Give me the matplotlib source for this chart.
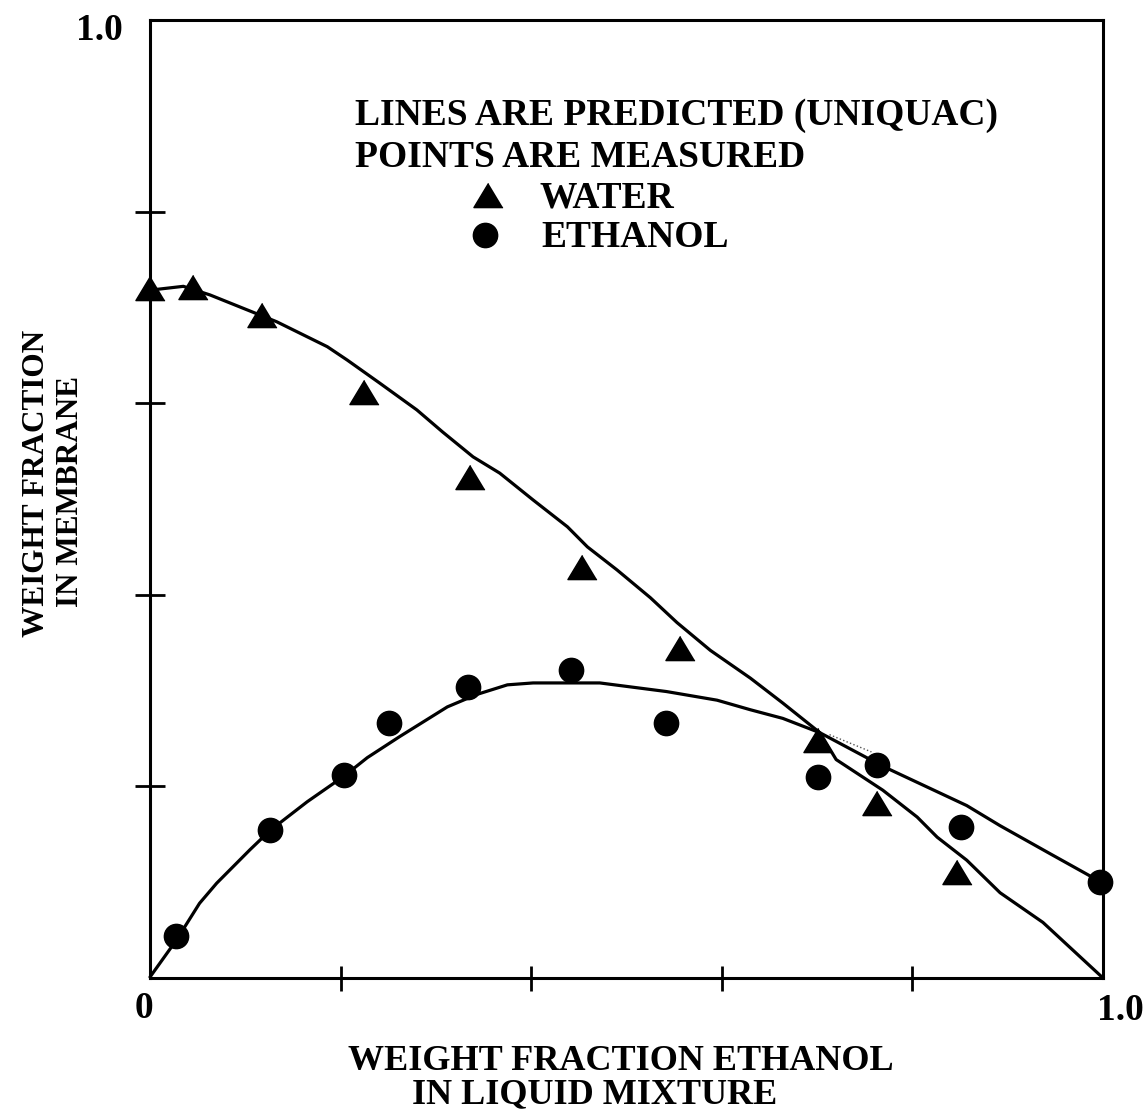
import matplotlib
matplotlib.use("Agg")
import matplotlib.pyplot as plt

# ---------------- data ----------------
water_x = [0.000, 0.045, 0.118, 0.225, 0.336, 0.453, 0.556, 0.701, 0.763, 0.847]
water_y = [0.720, 0.721, 0.692, 0.612, 0.523, 0.429, 0.344, 0.248, 0.183, 0.111]

ethanol_x = [0.027, 0.126, 0.204, 0.251, 0.334, 0.442, 0.541, 0.701, 0.763, 0.851, 0.997]
ethanol_y = [0.044, 0.154, 0.212, 0.266, 0.304, 0.322, 0.266, 0.210, 0.222, 0.158, 0.100]

water_line_x = [0.000, 0.035, 0.063, 0.133, 0.186, 0.207, 0.241, 0.280, 0.307,
                0.339, 0.367, 0.402, 0.438, 0.459, 0.490, 0.525, 0.553, 0.588,
                0.630, 0.664, 0.703, 0.720, 0.769, 0.805, 0.826, 0.857, 0.892,
                0.937, 1.000]
water_line_y = [0.718, 0.722, 0.713, 0.685, 0.659, 0.645, 0.621, 0.593, 0.570,
                0.544, 0.527, 0.499, 0.471, 0.450, 0.426, 0.397, 0.371, 0.342,
                0.313, 0.287, 0.256, 0.228, 0.196, 0.168, 0.147, 0.123, 0.089,
                0.058, 0.000]

ethanol_line_x = [0.000, 0.028, 0.052, 0.070, 0.105, 0.126, 0.165, 0.204, 0.228,
                  0.262, 0.312, 0.343, 0.375, 0.402, 0.472, 0.542, 0.595, 0.630,
                  0.664, 0.703, 0.769, 0.857, 0.892, 0.944, 1.000]
ethanol_line_y = [0.001, 0.040, 0.078, 0.099, 0.134, 0.154, 0.184, 0.211, 0.230,
                  0.252, 0.283, 0.296, 0.306, 0.308, 0.308, 0.299, 0.290, 0.280,
                  0.271, 0.256, 0.221, 0.180, 0.159, 0.130, 0.099]

dotted_x = [0.713, 0.757]
dotted_y = [0.254, 0.236]

tick_values = [0.2, 0.4, 0.6, 0.8]

legend_lines = ["LINES ARE PREDICTED (UNIQUAC)", "POINTS ARE MEASURED"]
legend_items = ["WATER", "ETHANOL"]
xlabel_lines = ["WEIGHT FRACTION ETHANOL", "IN LIQUID MIXTURE"]
ylabel_lines = ["WEIGHT FRACTION", "IN MEMBRANE"]

# ---------------- figure ----------------
W, H = 1147, 1111
fig = plt.figure(figsize=(W / 100, H / 100), dpi=100)
fig.patch.set_facecolor("white")
ax = fig.add_axes([150 / W, (H - 978) / H, (1103 - 150) / W, (978 - 20) / H])

FONT = "Liberation Serif"

def fx(x):
    return x / W

def fy(y):
    return 1 - y / H

tri = [(0, 0.83), (-1, -0.83), (1, -0.83)]

ax.plot(water_line_x, water_line_y, color="black", lw=2.3,
        solid_joinstyle="round", solid_capstyle="round", clip_on=False)
ax.plot(ethanol_line_x, ethanol_line_y, color="black", lw=2.3,
        solid_joinstyle="round", solid_capstyle="round", clip_on=False)
ax.plot(dotted_x, dotted_y, color="#555555", lw=1.0, ls=":")

ax.plot(water_x, water_y, ls="none", marker=tri, markersize=21,
        color="black", clip_on=False, zorder=5)
ax.plot(ethanol_x, ethanol_y, ls="none", marker="o", markersize=17.5,
        color="black", clip_on=False, zorder=5)

ax.set_xlim(0, 1)
ax.set_ylim(0, 1)
ax.set_xticks(tick_values)
ax.set_yticks(tick_values)
ax.set_xticklabels([])
ax.set_yticklabels([])
ax.tick_params(axis="x", direction="inout", length=18, width=2.0)
ax.tick_params(axis="y", direction="inout", length=22, width=2.0)
for sp in ax.spines.values():
    sp.set_linewidth(2.2)

# corner tick labels
fig.text(fx(123), fy(40), "1.0", ha="right", va="baseline",
         fontsize=27, fontweight="bold", family=FONT)
fig.text(fx(144), fy(1018), "0", ha="center", va="baseline",
         fontsize=27, fontweight="bold", family=FONT)
fig.text(fx(1097), fy(1020), "1.0", ha="left", va="baseline",
         fontsize=27, fontweight="bold", family=FONT)

# legend block
fig.text(fx(355), fy(125), legend_lines[0], ha="left", va="baseline",
         fontsize=27, fontweight="bold", family=FONT)
fig.text(fx(355), fy(167), legend_lines[1], ha="left", va="baseline",
         fontsize=27, fontweight="bold", family=FONT)
fig.text(fx(540), fy(207), legend_items[0], ha="left", va="baseline",
         fontsize=27, fontweight="bold", family=FONT)
fig.text(fx(541), fy(247), legend_items[1], ha="left", va="baseline",
         fontsize=27, fontweight="bold", family=FONT)
fig.lines.append(plt.Line2D([fx(488)], [fy(195)], marker=tri, markersize=21,
                            color="black", ls="none", transform=fig.transFigure))
fig.lines.append(plt.Line2D([fx(485)], [fy(235)], marker="o", markersize=17.5,
                            color="black", ls="none", transform=fig.transFigure))

# axis labels
fig.text(fx(621), fy(1070), xlabel_lines[0], ha="center", va="baseline",
         fontsize=26, fontweight="bold", family=FONT)
fig.text(fx(595), fy(1103), xlabel_lines[1], ha="center", va="baseline",
         fontsize=26, fontweight="bold", family=FONT)
fig.text(fx(37), fy(483), ylabel_lines[0], ha="center", va="center", rotation=90,
         fontsize=22.5, fontweight="bold", family=FONT)
fig.text(fx(70), fy(491), ylabel_lines[1], ha="center", va="center", rotation=90,
         fontsize=22.5, fontweight="bold", family=FONT)

fig.savefig("out.png", dpi=100, facecolor="white")
